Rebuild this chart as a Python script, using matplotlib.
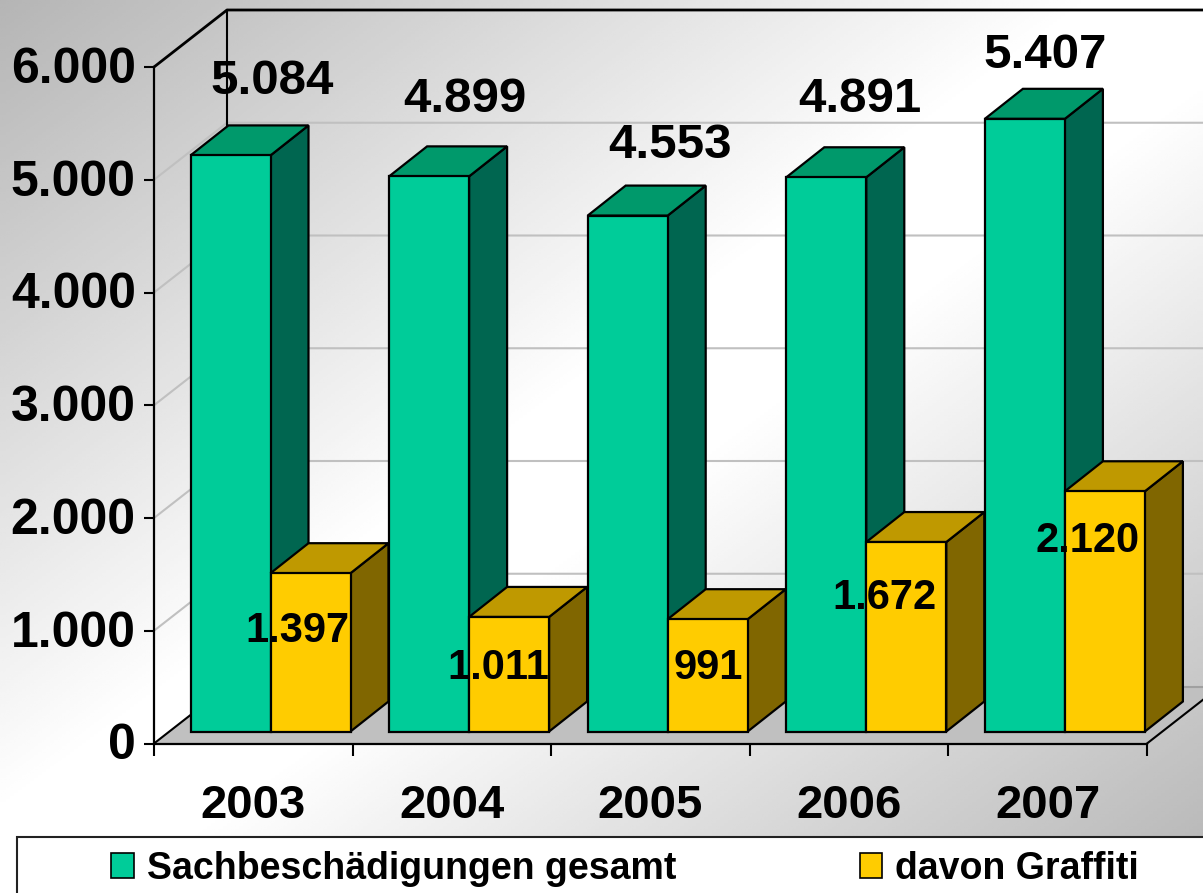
import numpy as np
import matplotlib
matplotlib.use('Agg')
import matplotlib.pyplot as plt
from matplotlib.patches import Polygon, Rectangle, Patch
from matplotlib.transforms import ScaledTranslation

plt.rcParams['font.family'] = ['Liberation Sans', 'DejaVu Sans']
plt.rcParams['font.weight'] = 'bold'

years = ['2003', '2004', '2005', '2006', '2007']
gesamt = [5084, 4899, 4553, 4891, 5407]
graffiti = [1397, 1011, 991, 1672, 2120]
yticks = [0, 1000, 2000, 3000, 4000, 5000, 6000]
names = ['Sachbeschädigungen gesamt', 'davon Graffiti']

# label centres in pixels, picture coords
gesamt_xy = [(272, 81), (465, 100), (670, 146), (860, 100), (1045, 56)]
graffiti_xy = [(297, 631), (498, 668), (708, 668), (884, 598), (1088, 541)]

W, H = 1203, 893
fig = plt.figure(figsize=(W / 100, H / 100), dpi=100)

# background gradient
bg = fig.add_axes([0, 0, 1, 1], zorder=0)
xx, yy = np.meshgrid(np.linspace(0, 1, 300), np.linspace(0, 1, 300))
t = (xx + yy) / 2
grad = 0.71 + 0.29 * np.minimum(1, (1 - np.abs(t - 0.5) * 2) * 1.1)
bg.imshow(grad, cmap='gray', vmin=0, vmax=1, aspect='auto', extent=[0, 1, 0, 1], origin='upper')
bg.axis('off')

L, R, B, T = 154, 1147, 743.5, 67
ax = fig.add_axes([L / W, 1 - B / H, (R - L) / W, (B - T) / H], zorder=1)
ax.patch.set_alpha(0)
ax.set_xlim(0, 5)
ax.set_ylim(0, 6000)

px_x = 5 / (R - L)      # data units per pixel
px_y = 6000 / (B - T)

wall_dx, wall_dy = 73 * px_x, 57 * px_y
bar_dx, bar_dy = 38 * px_x, 30 * px_y
base = 12 * px_y
left0 = 36.5 * px_x
bw = 80 * px_x
stretch = 1.005  # bars are a bit taller than the axis says


def poly(pts, fc, z=2, ec='black', lw=1.6):
    ax.add_patch(Polygon(pts, closed=True, fc=fc, ec=ec, lw=lw, zorder=z, clip_on=False, joinstyle='miter'))


def box(x, w, v, front, top, side):
    y0 = base
    y1 = base + v * stretch
    poly([(x + w, y0), (x + w + bar_dx, y0 + bar_dy), (x + w + bar_dx, y1 + bar_dy), (x + w, y1)], side, 4)
    poly([(x, y1), (x + w, y1), (x + w + bar_dx, y1 + bar_dy), (x + bar_dx, y1 + bar_dy)], top, 4)
    poly([(x, y0), (x + w, y0), (x + w, y1), (x, y1)], front, 4)


# floor
xr = 5 + wall_dx
poly([(0, 0), (5, 0), (xr, wall_dy), (wall_dx, wall_dy)], '#c0c0c0', 1, ec='none', lw=0)
ax.plot([5, xr], [0, wall_dy], color='black', lw=1.5, clip_on=False, zorder=3)
ax.plot([0, wall_dx], [0, wall_dy], color='black', lw=1.5, clip_on=False, zorder=3)

# gridlines on both walls
for v in yticks[1:-1]:
    ax.plot([0, wall_dx, xr], [v, v + wall_dy, v + wall_dy], color='#c0c0c0', lw=1.5, clip_on=False, zorder=1.5)
ax.plot([wall_dx, xr], [wall_dy, wall_dy], color='#a0a0a0', lw=1.5, clip_on=False, zorder=1.5)

# wall outline
ax.plot([0, wall_dx, xr], [6000, 6000 + wall_dy, 6000 + wall_dy], color='black', lw=2, clip_on=False, zorder=3)
ax.plot([wall_dx, wall_dx], [wall_dy, 6000 + wall_dy], color='black', lw=1.5, clip_on=False, zorder=3)

for i in range(len(years)):
    x = i + left0
    box(x, bw, gesamt[i], '#00cc99', '#00996b', '#006650')
    box(x + bw, bw, graffiti[i], '#ffcc00', '#bf9900', '#806600')

# axes
for s in ['top', 'right']:
    ax.spines[s].set_visible(False)
for s in ['left', 'bottom']:
    ax.spines[s].set_linewidth(1.6)
    ax.spines[s].set_zorder(5)
ax.set_yticks(yticks)
ax.set_yticklabels([f'{v:,}'.replace(',', '.') for v in yticks], fontsize=36, fontweight='bold')
ax.tick_params(axis='y', length=7.2, width=1.5, pad=6)
up = ScaledTranslation(0, 1.5 / 72, fig.dpi_scale_trans)
for lab in ax.get_yticklabels():
    lab.set_transform(lab.get_transform() + up)
ax.set_xticks(range(6))
ax.set_xticklabels([])
ax.tick_params(axis='x', which='major', length=8.5, width=1.5)
ax.set_xticks(np.arange(5) + 0.5, minor=True)
ax.set_xticklabels(years, minor=True, fontsize=34, fontweight='bold')
ax.tick_params(axis='x', which='minor', length=0, pad=29)

# value labels
for v, (px, py) in zip(gesamt, gesamt_xy):
    fig.text(px / W, 1 - py / H, f'{v:,}'.replace(',', '.'), fontsize=35.5, ha='center', va='center', zorder=6)
for v, (px, py) in zip(graffiti, graffiti_xy):
    fig.text(px / W, 1 - py / H, f'{v:,}'.replace(',', '.'), fontsize=30, ha='center', va='center', zorder=6)

# legend
fig.patches.append(Rectangle((17 / W, -0.01), 1.1, (893 - 837) / H + 0.01, transform=fig.transFigure,
                             fc='white', ec='#222222', lw=1.5, zorder=7, figure=fig))
handles = [Patch(fc='#00cc99', ec='black', lw=1.2), Patch(fc='#ffcc00', ec='black', lw=1.2)]
leg = fig.legend(handles, names, loc='center left', bbox_to_anchor=(111 / W, 1 - 869 / H), ncol=2,
                 frameon=False, borderaxespad=0, borderpad=0, handlelength=0.6,
                 handleheight=0.65, handletextpad=0.35, columnspacing=4.9, prop={'weight': 'bold', 'size': 27})
leg.set_zorder(8)

fig.savefig('out.png', dpi=100)
